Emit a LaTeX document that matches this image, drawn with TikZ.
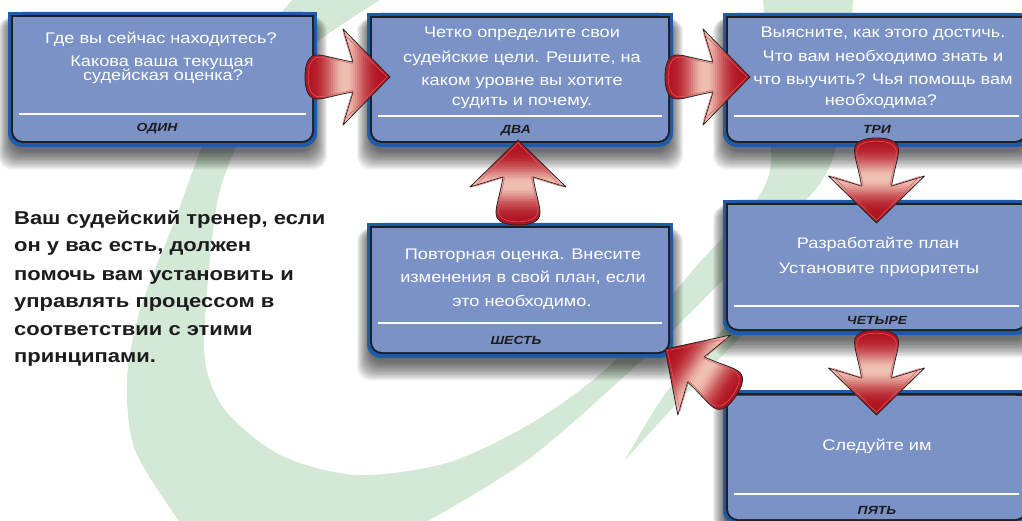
\documentclass[tikz,border=0pt]{standalone}
\usepackage{fontspec}
\newfontfamily\bxfont{Liberation Sans}[FakeStretch=1.18]
\usetikzlibrary{calc}
\definecolor{boxblue}{RGB}{28,92,168}
\definecolor{boxblack}{RGB}{30,30,35}
\definecolor{boxfill}{RGB}{122,146,197}
\definecolor{arrred}{RGB}{176,16,30}
\definecolor{arrpink}{RGB}{240,194,180}
\definecolor{arrinner}{RGB}{222,90,100}
\definecolor{swoosh}{RGB}{212,233,213}
\definecolor{labelc}{RGB}{28,28,30}
\tikzset{
  boxarea/.style={rectangle, inner sep=0pt, outer sep=0pt, draw=none},
  boxtxt/.style={font=\bxfont\fontsize{15.4}{18}\selectfont, text=white, inner sep=0pt, anchor=base},
  lbl/.style={font=\bxfont\bfseries\itshape\fontsize{11.8}{14}\selectfont, text=labelc, inner sep=0pt, anchor=base},
  lefttxt/.style={font=\bxfont\bfseries\fontsize{18.6}{22}\selectfont, text=labelc, inner sep=0pt, anchor=base west},
  shadowlayer/.style={fill=black, opacity=0.055, rounded corners=14pt}
}
\newcommand\myboxframe[2]{%
  \foreach \k in {1,...,14}{%
    \fill[shadowlayer] ($(#1.north west)+(-\k+4,5)$) rectangle ($(#1.south east)+(\k-4,3+1.4*\k)$);}
  \fill[boxblue, rounded corners=14pt] (#1.north west) rectangle (#1.south east);
  \fill[boxblue] (#1.north west) rectangle (#1.east);
  \fill[boxblack, rounded corners=12pt] ($(#1.north west)+(3,3)$) rectangle ($(#1.south east)+(-3,-4)$);
  \fill[boxblack] ($(#1.north west)+(3,3)$) rectangle ($(#1.east)+(-3,0)$);
  \fill[boxfill, rounded corners=10pt] ($(#1.north west)+(5,5.5)$) rectangle ($(#1.south east)+(-5,-6)$);
  \fill[boxfill] ($(#1.north west)+(5,5.5)$) rectangle ($(#1.east)+(-5,0)$);
  \draw[white, line width=2pt] ($(#1.north west)+(11,#2)$) -- ($(#1.north east)+(-11,#2)$);
}
\def\myarrshape{(48,15) -- (38,48) -- (85,0) -- (38,-48) -- (48,-15) .. controls (30,-18) and (20,-22) .. (12,-22) .. controls (3,-22) and (0,-12) .. (0,0) .. controls (0,12) and (3,22) .. (12,22) .. controls (20,22) and (30,18) .. (48,15) -- cycle}
\newcommand\myredarrow[2]{%
  \coordinate (ArA) at (#1);
  \coordinate (ArB) at (#2);
  \pgfmathanglebetweenpoints{\pgfpointanchor{ArA}{center}}{\pgfpointanchor{ArB}{center}}%
  \let\myarrang\pgfmathresult
  \begin{scope}[shift={(ArA)}, rotate=\myarrang, x=1pt, y=1pt]
    \begin{scope}
      \clip \myarrshape;
      \foreach \i in {0,2,...,86}{%
        \pgfmathsetmacro\mytq{(\i+1-40)/19}%
        \pgfmathtruncatemacro\mypk{100*exp(-(\mytq)*(\mytq))}%
        \fill[arrpink!\mypk!arrred] (\i-0.2,-52) rectangle (\i+2.2,52);}
    \end{scope}
    \draw[black!85, line width=0.8pt, line join=round] \myarrshape;
    \begin{scope}[xshift=3.2pt, x=0.93pt, y=0.9pt]
      \draw[arrinner, line width=0.5pt, line join=round] \myarrshape;
    \end{scope}
  \end{scope}}
\begin{document}
\begin{tikzpicture}[x=1pt,y=-1pt]
\useasboundingbox (0,0) rectangle (1022,521);
\fill[white] (0,0) rectangle (1022,521);
% background swoosh
\fill[swoosh] plot[smooth] coordinates {(292,0) (250,55) (205,140) (175,220) (140,310) (127,380) (135,450) (179,521)}
  -- plot[smooth] coordinates {(428,521) (530,458) (642,360) (728,275) (815,190) (838,140) (848,70) (853,0)}
  -- plot[smooth] coordinates {(763,0) (768,80) (770,170) (745,215) (700,262) (618,358) (540,418) (450,462) (357,475) (280,455) (225,410) (205,360) (208,280) (220,190) (250,120) (300,55) (380,0)}
  -- cycle;
\fill[swoosh] plot[smooth] coordinates {(625,460) (680,400) (745,332)} -- plot[smooth] coordinates {(730,322) (668,390) (625,460)} -- cycle;
% boxes
\node[boxarea, minimum width=309pt, minimum height=135pt] (b1) at (162.5,79.5) {};
\node[boxarea, minimum width=306pt, minimum height=134pt] (b2) at (520,80) {};
\node[boxarea, minimum width=307pt, minimum height=134pt] (b3) at (876.5,80) {};
\node[boxarea, minimum width=307pt, minimum height=135pt] (b4) at (876.5,267.5) {};
\node[boxarea, minimum width=307pt, minimum height=135pt] (b5) at (876.5,457.5) {};
\node[boxarea, minimum width=306pt, minimum height=135pt] (b6) at (520,290.5) {};
\myboxframe{b1}{102}
\myboxframe{b2}{103}
\myboxframe{b3}{103}
\myboxframe{b4}{106}
\myboxframe{b5}{104}
\myboxframe{b6}{100}
% box texts
\node[boxtxt] (t1a) at (161,43.5) {Где вы сейчас находитесь?};
\node[boxtxt] (t1b) at (162,66.5) {Какова ваша текущая};
\node[boxtxt] (t1c) at (163,80.5) {судейская оценка?};
\node[boxtxt] (t2a) at (522,38) {Четко определите свои};
\node[boxtxt] (t2b) at (522,62.5) {судейские цели. Решите, на};
\node[boxtxt] (t2c) at (522,86) {каком уровне вы хотите};
\node[boxtxt] (t2d) at (522,106) {судить и почему.};
\node[boxtxt] (t3a) at (883,38) {Выясните, как этого достичь.};
\node[boxtxt] (t3b) at (883,61.5) {Что вам необходимо знать и};
\node[boxtxt] (t3c) at (883,84.5) {что выучить? Чья помощь вам};
\node[boxtxt] (t3d) at (881,106) {необходима?};
\node[boxtxt] (t4a) at (878,249) {Разработайте план};
\node[boxtxt] (t4b) at (879,273) {Установите приоритеты};
\node[boxtxt] (t5a) at (877,450) {Следуйте им};
\node[boxtxt] (t6a) at (523,260) {Повторная оценка. Внесите};
\node[boxtxt] (t6b) at (523,283) {изменения в свой план, если};
\node[boxtxt] (t6c) at (522,306) {это необходимо.};
% labels
\node[lbl] (l1) at (157,132) {ОДИН};
\node[lbl] (l2) at (516,134) {ДВА};
\node[lbl] (l3) at (877,134) {ТРИ};
\node[lbl] (l4) at (877,324) {ЧЕТЫРЕ};
\node[lbl] (l5) at (877,514) {ПЯТЬ};
\node[lbl] (l6) at (516,344) {ШЕСТЬ};
% left text
\node[lefttxt] (m1) at (14,225) {Ваш судейский тренер, если};
\node[lefttxt] (m2) at (14,252) {он у вас есть, должен};
\node[lefttxt] (m3) at (14,280) {помочь вам установить и};
\node[lefttxt] (m4) at (14,307) {управлять процессом в};
\node[lefttxt] (m5) at (14,335) {соответствии с этими};
\node[lefttxt] (m6) at (14,362) {принципами.};
% arrows
\myredarrow{$(b1.east)+(-12,-2.5)$}{$(b2.west)+(23,-3)$}
\myredarrow{$(b2.east)+(-8,-3)$}{$(b3.west)+(27,-3)$}
\myredarrow{$(b3.south)+(0,-9)$}{$(b4.north)+(0,22)$}
\myredarrow{$(b4.south)+(0,-5)$}{$(b5.north)+(0,23)$}
\myredarrow{$(b5.north west)+(13,6)$}{$(b6.south east)+(-8,-9)$}
\myredarrow{$(b6.north)+(-2,2)$}{$(b2.south)+(-2,-5)$}
\end{tikzpicture}
\end{document}
